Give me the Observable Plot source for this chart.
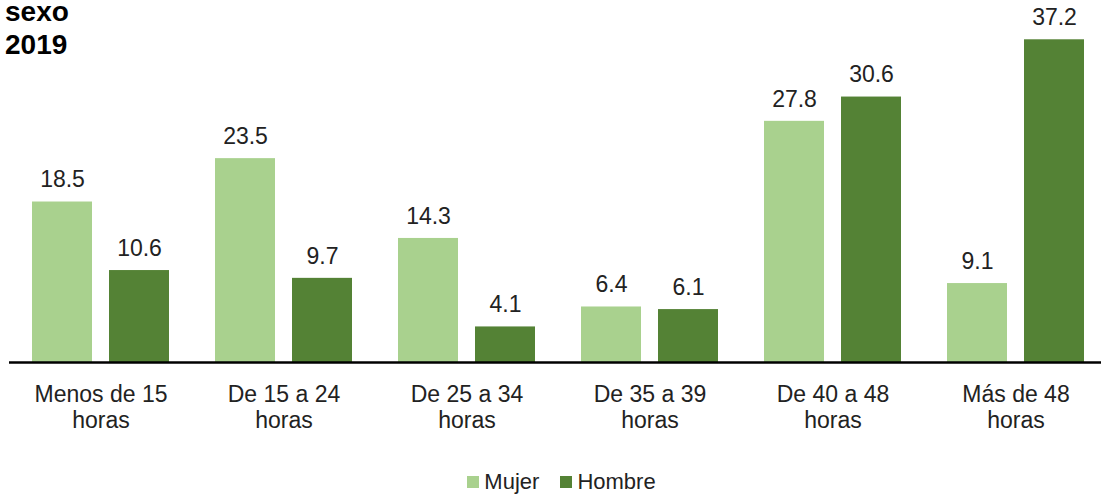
<!DOCTYPE html>
<html>
<head>
<meta charset="utf-8">
<script src="https://cdn.jsdelivr.net/npm/d3@7"></script>
<script src="https://cdn.jsdelivr.net/npm/@observablehq/plot@0.6"></script>
<style>
  html, body { margin: 0; padding: 0; background: #fff; }
  body { width: 1101px; height: 495px; position: relative; overflow: hidden; font-family: "Liberation Sans", Arial, sans-serif; }
  #title { position: absolute; left: 5px; top: -5px; font-weight: bold; font-size: 28px; line-height: 33px; color: #000; z-index: 2; }
  #chart svg { display: block; }
  #legend { display: flex; justify-content: center; align-items: center; height: 26px; margin-top: 9px; font-size: 22px; color: #222; gap: 21px; padding-left: 22px; }
  .item { display: flex; align-items: center; gap: 5px; }
  .sw { width: 12px; height: 12px; display: inline-block; }
</style>
</head>
<body>
<div id="title">sexo<br>2019</div>
<div id="chart"></div>
<div id="legend"></div>
<script>
const categories = ["Menos de 15 horas", "De 15 a 24 horas", "De 25 a 34 horas", "De 35 a 39 horas", "De 40 a 48 horas", "Más de 48 horas"];
const series = ["Mujer", "Hombre"];
const mujer = [18.5, 23.5, 14.3, 6.4, 27.8, 9.1];
const hombre = [10.6, 9.7, 4.1, 6.1, 30.6, 37.2];
const colors = ["#a9d18e", "#548235"];

const data = [];
categories.forEach((c, i) => {
  data.push({cat: c, sexo: "Mujer", value: mujer[i]});
  data.push({cat: c, sexo: "Hombre", value: hombre[i]});
});

const plot = Plot.plot({
  width: 1101,
  height: 460,
  marginLeft: 8,
  marginRight: -6,
  marginTop: 15,
  marginBottom: 98,
  style: {fontFamily: "'Liberation Sans', Arial, sans-serif", fontSize: "23px", color: "#222", background: "#fff", overflow: "visible"},
  fx: {domain: categories, paddingInner: 0, paddingOuter: 0, label: null},
  x: {domain: series, paddingInner: 0.218, paddingOuter: 0.283, axis: null},
  y: {domain: [0, 40], axis: null},
  color: {domain: series, range: colors},
  marks: [
    Plot.barY(data, {fx: "cat", x: "sexo", y: "value", fill: "sexo"}),
    Plot.text(data, {fx: "cat", x: "sexo", y: "value", text: d => d.value.toFixed(1), dy: -22, fontSize: 23, fill: "#222"}),
    Plot.ruleY([0], {stroke: "#000", strokeWidth: 2.5}),
    Plot.axisFx({anchor: "bottom", tickSize: 0, tickPadding: 22, fontSize: 23, lineHeight: 1.1, fill: "#222", label: null, tickFormat: d => d.replace(" horas", "\nhoras")})
  ]
});
document.getElementById("chart").appendChild(plot);

const legend = document.getElementById("legend");
series.forEach((s, i) => {
  const it = document.createElement("div");
  it.className = "item";
  it.innerHTML = `<span class="sw" style="background:${colors[i]}"></span><span>${s}</span>`;
  legend.appendChild(it);
});
</script>
</body>
</html>
